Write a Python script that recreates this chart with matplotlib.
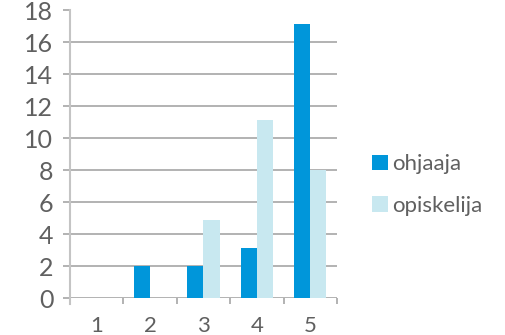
import matplotlib
matplotlib.use("Agg")
import matplotlib.pyplot as plt
from matplotlib.patches import Patch
import numpy as np

categories = ["1", "2", "3", "4", "5"]
ohjaaja = [0, 2, 2, 3.1, 17.1]
opiskelija = [0, 0, 4.9, 11.1, 8]
series_names = ["ohjaaja", "opiskelija"]
colors = ["#0096da", "#c8e8f0"]
yticks = list(range(0, 19, 2))

plt.rcParams["font.family"] = ["Lato", "DejaVu Sans"]
text_color = "#606060"
grid_color = "#a6a6a6"

fig = plt.figure(figsize=(5.06, 3.35), dpi=100)
ax = fig.add_axes([70 / 506, 37 / 335, 267 / 506, 288 / 335])

x = np.arange(len(categories))
w = 0.3
ax.bar(x - w / 2, ohjaaja, width=w, color=colors[0], zorder=3)
ax.bar(x + w / 2, opiskelija, width=w, color=colors[1], zorder=3)

ax.set_xlim(-0.5, len(categories) - 0.5)
ax.set_ylim(0, 18)
ax.set_yticks(yticks)
ax.set_yticklabels([str(t) for t in yticks])
ax.set_xticks(x)
ax.set_xticklabels(categories)
ax.set_xticks(np.arange(-0.5, len(categories)), minor=True)

for t in yticks[:-1]:
    ax.axhline(t, color=grid_color, lw=1.2, zorder=1)

for s in ["top", "right", "bottom"]:
    ax.spines[s].set_visible(False)
ax.spines["left"].set_color("#c4c4c4")
ax.spines["left"].set_linewidth(1.5)
ax.spines["left"].set_bounds(-0.35, 18)

ax.tick_params(axis="y", length=5, width=1.2, color=grid_color, pad=7,
               labelsize=18, labelcolor=text_color)
ax.tick_params(axis="x", which="major", length=0, pad=13,
               labelsize=16, labelcolor=text_color)
ax.tick_params(axis="x", which="minor", length=4, width=1.2, color=grid_color)

handles = [Patch(facecolor=c, edgecolor="none") for c in colors]
leg = fig.legend(handles, series_names, loc="center left",
                 bbox_to_anchor=(352 / 506, 1 - 185 / 335), frameon=False,
                 handlelength=0.7, handleheight=0.7, handletextpad=0.2,
                 labelspacing=0.95, prop={"size": 16},
                 labelcolor=text_color)

fig.savefig("out.png", dpi=100)
